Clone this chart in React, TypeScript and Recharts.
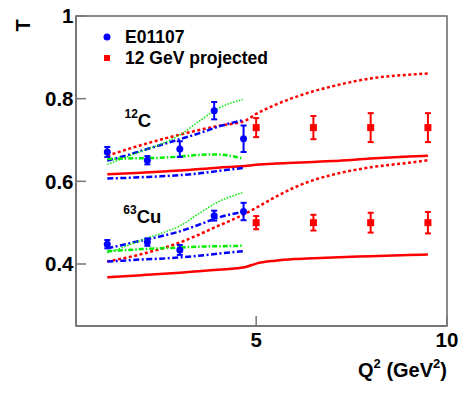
import React from 'react';
import {
  ComposedChart,
  Line,
  Scatter,
  XAxis,
  YAxis,
  ErrorBar,
  ReferenceArea,
  ReferenceDot,
  Legend,
} from 'recharts';

const FONT = '"Liberation Sans", Arial, Helvetica, sans-serif';

// ticks
const xTicksMajor = [5, 10];
const xTicksMinor = [1, 2, 3, 4, 6, 7, 8, 9];
const yTicksMajor = [0.4, 0.6, 0.8, 1];
const yTicksMinor = [0.3, 0.35, 0.45, 0.5, 0.55, 0.65, 0.7, 0.75, 0.85, 0.9, 0.95];

// E01107 data
const e01107Q2 = [1.1, 2.15, 3.0, 3.9, 4.67];
const e01107C = [0.671, 0.651, 0.678, 0.771, 0.703];
const e01107CErr = [0.012, 0.01, 0.019, 0.021, 0.032];
const e01107Cu = [0.448, 0.453, 0.434, 0.517, 0.527];
const e01107CuErr = [0.01, 0.009, 0.012, 0.012, 0.021];

// 12 GeV projected
const projQ2 = [5, 6.5, 8, 9.5];
const projC = [0.73, 0.73, 0.73, 0.73];
const projCErr = [0.023, 0.028, 0.035, 0.035];
const projCu = [0.5, 0.5, 0.5, 0.5];
const projCuErr = [0.016, 0.019, 0.024, 0.026];

// theory curves (short range)
const shortQ2 = [1.1, 1.5, 2, 2.5, 3, 3.5, 4, 4.65];
const cGreenDotted = [0.641, 0.655, 0.673, 0.69, 0.712, 0.745, 0.776, 0.798];
const cBlueUpper = [0.65, 0.66, 0.674, 0.688, 0.702, 0.716, 0.732, 0.748];
const cBlueLower = [0.607, 0.608, 0.61, 0.612, 0.615, 0.619, 0.625, 0.632];
const cGreenDashDot = [0.654, 0.655, 0.656, 0.657, 0.66, 0.664, 0.665, 0.655];
const cuGreenDotted = [0.427, 0.44, 0.458, 0.474, 0.492, 0.522, 0.55, 0.573];
const cuBlueUpper = [0.438, 0.446, 0.457, 0.467, 0.479, 0.495, 0.512, 0.526];
const cuBlueLower = [0.406, 0.408, 0.411, 0.413, 0.416, 0.42, 0.425, 0.431];
const cuGreenDashDot = [0.431, 0.433, 0.436, 0.438, 0.44, 0.442, 0.443, 0.444];

// theory curves (long range)
const longQ2 = [1.1, 2, 3, 4, 4.7, 5, 5.5, 6, 6.5, 7, 8, 9, 9.5];
const cRedDotted = [0.662, 0.688, 0.713, 0.734, 0.746, 0.763, 0.785, 0.803, 0.818, 0.83, 0.849, 0.858, 0.861];
const cRedSolid = [0.617, 0.621, 0.626, 0.633, 0.637, 0.64, 0.643, 0.645, 0.647, 0.649, 0.655, 0.66, 0.662];
const cuRedDotted = [0.406, 0.424, 0.452, 0.492, 0.521, 0.536, 0.562, 0.585, 0.603, 0.616, 0.634, 0.645, 0.651];
const cuRedSolid = [0.368, 0.373, 0.379, 0.386, 0.392, 0.401, 0.408, 0.412, 0.414, 0.416, 0.419, 0.422, 0.423];

const toPts = (xs: number[], ys: number[], es?: number[]) =>
  xs.map((x, i) => (es ? { x, y: ys[i], e: es[i] } : { x, y: ys[i] }));

const X_DOMAIN: [number, number] = [0.28, 10];
const Y_DOMAIN: [number, number] = [0.25, 1];

const tickStyle = { fill: '#000', fontSize: 20.5, fontWeight: 'bold', fontFamily: FONT };
const axisLineStyle = { stroke: '#777', strokeWidth: 2 };
const tickLineStyle = { stroke: '#777', strokeWidth: 1.5 };

const RED = '#ff0000';
const BLUE = '#0000ff';
const GREEN = '#00ee00';

const renderLegend = () => (
  <div style={{ fontFamily: FONT, fontWeight: 'bold', fontSize: 17.5, color: '#000' }}>
    <div style={{ display: 'flex', alignItems: 'center', height: 21 }}>
      <svg width={16} height={16}>
        <circle cx={8} cy={8} r={3.5} fill={BLUE} />
      </svg>
      <span style={{ marginLeft: 10 }}>E01107</span>
    </div>
    <div style={{ display: 'flex', alignItems: 'center', height: 21 }}>
      <svg width={16} height={16}>
        <rect x={5} y={5} width={6} height={6} fill={RED} />
      </svg>
      <span style={{ marginLeft: 10 }}>12 GeV projected</span>
    </div>
  </div>
);

const nucleusLabel = (mass: string, sym: string) => (props: any) => {
  const vb = props.viewBox || {};
  return (
    <text x={vb.x} y={vb.y} fontFamily={FONT} fontWeight="bold" fontSize={18.5} fill="#000">
      <tspan fontSize={12} dy={-9}>{mass}</tspan>
      <tspan dy={9}>{sym}</tspan>
    </text>
  );
};

const xLabel = (props: any) => {
  const vb = props.viewBox || {};
  return (
    <text x={vb.x + vb.width} y={vb.y + 51} textAnchor="end" fontFamily={FONT} fontWeight="bold" fontSize={20} fill="#000">
      <tspan>Q</tspan>
      <tspan fontSize={13} dy={-9}>2</tspan>
      <tspan dy={9}> (GeV</tspan>
      <tspan fontSize={13} dy={-9}>2</tspan>
      <tspan dy={9}>)</tspan>
    </text>
  );
};

const yLabel = (props: any) => {
  const vb = props.viewBox || {};
  const cx = vb.x + vb.width - 53;
  const cy = vb.y + 9.5;
  return (
    <text
      x={cx}
      y={cy}
      textAnchor="middle"
      dominantBaseline="central"
      transform={`rotate(-90, ${cx}, ${cy})`}
      fontFamily={FONT}
      fontWeight="bold"
      fontSize={20}
      fill="#000"
    >
      T
    </text>
  );
};

const circleShape = (p: any) => <circle cx={p.cx} cy={p.cy} r={3.5} fill={BLUE} />;
const squareShape = (p: any) => <rect x={p.cx - 3.5} y={p.cy - 3.5} width={7} height={7} fill={RED} />;

export default function App() {
  return (
    <div style={{ position: 'absolute', left: 0, top: 0, width: 473, height: 394, background: '#fff' }}>
      <ComposedChart width={473} height={394} margin={{ top: 16, right: 26, bottom: 66, left: 74 }}>
        <XAxis
          dataKey="x"
          type="number"
          domain={X_DOMAIN}
          allowDataOverflow
          ticks={xTicksMajor}
          interval={0}
          height={1}
          tick={tickStyle}
          axisLine={axisLineStyle}
          tickLine={tickLineStyle}
          tickSize={-10}
          tickMargin={16}
          label={{ content: xLabel }}
        />
        <YAxis
          type="number"
          domain={Y_DOMAIN}
          allowDataOverflow
          ticks={yTicksMajor}
          interval={0}
          width={1}
          tick={tickStyle}
          axisLine={axisLineStyle}
          tickLine={tickLineStyle}
          tickSize={-10}
          tickMargin={12.5}
          tickFormatter={(v: number) => (v === 1 ? '1' : v.toFixed(1))}
          label={{ content: yLabel }}
        />
        <XAxis
          xAxisId="m"
          dataKey="x"
          type="number"
          domain={X_DOMAIN}
          allowDataOverflow
          ticks={xTicksMinor}
          interval={0}
          height={1}
          tick={false}
          axisLine={false}
          tickLine={tickLineStyle}
          tickSize={-6}
        />
        <YAxis
          yAxisId="m"
          type="number"
          domain={Y_DOMAIN}
          allowDataOverflow
          ticks={yTicksMinor}
          interval={0}
          width={1}
          tick={false}
          axisLine={false}
          tickLine={tickLineStyle}
          tickSize={-6}
        />
        <ReferenceArea x1={X_DOMAIN[0]} x2={X_DOMAIN[1]} y1={Y_DOMAIN[0]} y2={Y_DOMAIN[1]} fill="none" stroke="#666" strokeWidth={1.5} />

        {/* Carbon curves */}
        <Line data={toPts(longQ2, cRedSolid)} dataKey="y" type="monotone" stroke={RED} strokeWidth={2.5} dot={false} isAnimationActive={false} />
        <Line data={toPts(longQ2, cRedDotted)} dataKey="y" type="monotone" stroke={RED} strokeWidth={2.5} strokeDasharray="3 2.5" dot={false} isAnimationActive={false} />
        <Line data={toPts(shortQ2, cBlueLower)} dataKey="y" type="monotone" stroke={BLUE} strokeWidth={2.5} strokeDasharray="6 2.5 2 2.5" dot={false} isAnimationActive={false} />
        <Line data={toPts(shortQ2, cBlueUpper)} dataKey="y" type="monotone" stroke={BLUE} strokeWidth={2.5} strokeDasharray="6 2.5 2 2.5" dot={false} isAnimationActive={false} />
        <Line data={toPts(shortQ2, cGreenDashDot)} dataKey="y" type="monotone" stroke={GREEN} strokeWidth={2.5} strokeDasharray="5 2 1.5 2" dot={false} isAnimationActive={false} />
        <Line data={toPts(shortQ2, cGreenDotted)} dataKey="y" type="monotone" stroke={GREEN} strokeWidth={1.5} strokeDasharray="1.5 1.5" dot={false} isAnimationActive={false} />

        {/* Copper curves */}
        <Line data={toPts(longQ2, cuRedSolid)} dataKey="y" type="monotone" stroke={RED} strokeWidth={2.5} dot={false} isAnimationActive={false} />
        <Line data={toPts(longQ2, cuRedDotted)} dataKey="y" type="monotone" stroke={RED} strokeWidth={2.5} strokeDasharray="3 2.5" dot={false} isAnimationActive={false} />
        <Line data={toPts(shortQ2, cuBlueLower)} dataKey="y" type="monotone" stroke={BLUE} strokeWidth={2.5} strokeDasharray="6 2.5 2 2.5" dot={false} isAnimationActive={false} />
        <Line data={toPts(shortQ2, cuBlueUpper)} dataKey="y" type="monotone" stroke={BLUE} strokeWidth={2.5} strokeDasharray="6 2.5 2 2.5" dot={false} isAnimationActive={false} />
        <Line data={toPts(shortQ2, cuGreenDashDot)} dataKey="y" type="monotone" stroke={GREEN} strokeWidth={2.5} strokeDasharray="5 2 1.5 2" dot={false} isAnimationActive={false} />
        <Line data={toPts(shortQ2, cuGreenDotted)} dataKey="y" type="monotone" stroke={GREEN} strokeWidth={1.5} strokeDasharray="1.5 1.5" dot={false} isAnimationActive={false} />

        {/* Data points */}
        <Scatter data={toPts(e01107Q2, e01107C, e01107CErr)} dataKey="y" shape={circleShape} isAnimationActive={false}>
          <ErrorBar dataKey="e" direction="y" width={3} stroke={BLUE} strokeWidth={2} />
        </Scatter>
        <Scatter data={toPts(e01107Q2, e01107Cu, e01107CuErr)} dataKey="y" shape={circleShape} isAnimationActive={false}>
          <ErrorBar dataKey="e" direction="y" width={3} stroke={BLUE} strokeWidth={2} />
        </Scatter>
        <Scatter data={toPts(projQ2, projC, projCErr)} dataKey="y" shape={squareShape} isAnimationActive={false}>
          <ErrorBar dataKey="e" direction="y" width={3} stroke={RED} strokeWidth={2} />
        </Scatter>
        <Scatter data={toPts(projQ2, projCu, projCuErr)} dataKey="y" shape={squareShape} isAnimationActive={false}>
          <ErrorBar dataKey="e" direction="y" width={3} stroke={RED} strokeWidth={2} />
        </Scatter>

        <ReferenceDot x={1.55} y={0.732} r={0} fill="none" stroke="none" label={{ content: nucleusLabel('12', 'C') }} />
        <ReferenceDot x={1.52} y={0.499} r={0} fill="none" stroke="none" label={{ content: nucleusLabel('63', 'Cu') }} />

        <Legend
          layout="vertical"
          align="center"
          verticalAlign="middle"
          content={renderLegend}
          wrapperStyle={{ left: 99, top: 26.5, width: 'auto', height: 'auto' }}
        />
      </ComposedChart>
    </div>
  );
}
